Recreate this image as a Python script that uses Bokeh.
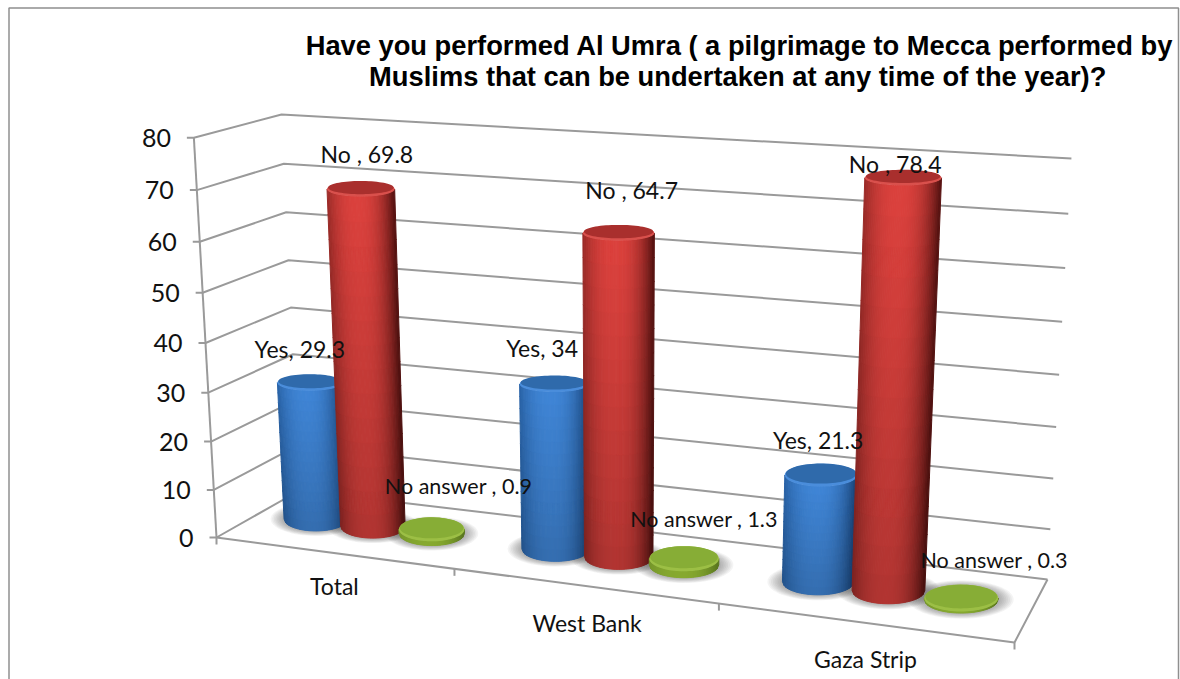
import numpy as np
from bokeh.plotting import figure
from bokeh.models import Range1d
from bokeh.core.properties import value
from bokeh.embed import file_html
from bokeh.resources import INLINE

# ---- data
title_lines = ["Have you performed Al Umra ( a pilgrimage to Mecca performed by",
               "Muslims that can be undertaken at any time of  the year)?"]
categories = ["Total", "West Bank", "Gaza Strip"]
series_names = ["Yes", "No", "No answer"]
label_names = ["Yes,", "No ,", "No answer ,"]
yes_values = [29.3, 34, 21.3]
no_values = [69.8, 64.7, 78.4]
no_answer_values = [0.9, 1.3, 0.3]
y_ticks = [0, 10, 20, 30, 40, 50, 60, 70, 80]

# ---- perspective frame (floor corners in page pixels)
FLOOR = [(216, 537), (1014, 642), (1047, 579), (299, 490)]


def homography(q):
    src = [(0, 0), (1, 0), (1, 1), (0, 1)]
    A, b = [], []
    for (s, t), (x, y) in zip(src, q):
        A.append([s, t, 1, 0, 0, 0, -s * x, -t * x]); b.append(x)
        A.append([0, 0, 0, s, t, 1, -s * y, -t * y]); b.append(y)
    return np.append(np.linalg.solve(np.array(A, float), np.array(b, float)), 1).reshape(3, 3)


HF = homography(FLOOR)


def fv(v):
    f = v / 80
    return f * (0.946 + 0.054 * f)


def proj(u, d, v):
    w = HF @ np.array([u, d, 1.0])
    bx, by = w[0] / w[2], w[1] / w[2]
    f = fv(v)
    full_h = 376 + 0.505 * (by - 490) - 20 * d * (1 - d)
    full_dx = (bx - 620) * 0.056
    return np.array([bx + full_dx * f, by - full_h * f])


def mix(a, b, t):
    t = float(np.clip(t, 0, 1))
    return "#%02x%02x%02x" % tuple(int(round(a[i] + (b[i] - a[i]) * t)) for i in range(3))


def rgb(h):
    return tuple(int(h[i:i + 2], 16) for i in (1, 3, 5))


def radius_x(u, d, v):
    bx = proj(u, d, 0)[0]
    return (31 + 0.008 * (bx - 216)) * (1 + 0.056 * fv(v))


def radius_y(cy):
    return float(np.interp(cy, [190, 385, 477, 533, 600], [7.5, 8, 11.5, 12, 13.5]))


def ellipse(cx, cy, rx, ry, n=72):
    th = np.linspace(0, 2 * np.pi, n)
    return (cx + rx * np.cos(th)).tolist(), (cy + ry * np.sin(th)).tolist()


p = figure(width=1180, height=679, output_backend="svg", toolbar_location=None,
           x_range=Range1d(0, 1180), y_range=Range1d(679, 0), min_border=0,
           outline_line_color=None, background_fill_color="white")
p.axis.visible = False
p.grid.visible = False

# outer chart border
BORDER = "#8f8f8f"
p.line([8.5, 8.5, 1178, 1178], [679, 7.5, 7.5, 679], line_color=BORDER, line_width=1.5)

GRID = "#9a9a9a"
FONT = value("Lato")
# gridlines, ticks, tick labels
for t in y_ticks:
    a, b, c = proj(0, 0, t), proj(0, 1, t), proj(1, 1, t)
    p.line([a[0] - 7, a[0], b[0], c[0]], [a[1], a[1], b[1], c[1]], line_color=GRID, line_width=2)
    p.text([a[0] - 23], [a[1]], text=[str(t)], text_align="right", text_baseline="middle",
           text_font=FONT, text_font_size="25px", text_color="#111111")
# floor front and right edges + category ticks
fa, fb, fc = proj(0, 0, 0), proj(1, 0, 0), proj(1, 1, 0)
p.line([fa[0], fb[0], fc[0]], [fa[1], fb[1], fc[1]], line_color=GRID, line_width=2)
ta, tb = proj(0, 0, 0), proj(0, 0, 80)
p.line([ta[0], tb[0]], [ta[1], tb[1]], line_color=GRID, line_width=2)
for i in range(4):
    q = proj(i / 3, 0, 0)
    p.line([q[0], q[0]], [q[1], q[1] + 7], line_color=GRID, line_width=2)
cat_dx, cat_dy = [2, 4, 3], [33, 37, 37]
for i, c in enumerate(categories):
    q = proj((i + 0.5) / 3, 0, 0)
    p.text([q[0] + cat_dx[i]], [q[1] + cat_dy[i]], text=[c], text_align="center", text_baseline="middle",
           text_font=FONT, text_font_size="23px", text_color="#111111")

# ---- cylinders
SLOTS = [0.258, 0.508, 0.76]
GROUP_SHIFT = [-0.004, 0, 0]
DEPTH = 0.52
STYLES = [
    dict(center="#3f85d6", left="#235a9b", right="#1c4a82", top="#2f6aab", rim="#4a8ddb", dim=0.82),
    dict(center="#dc413d", left="#8a2522", right="#6a1917", top="#a92f2d", rim="#d9504c", dim=0.80),
    dict(center="#86a92f", left="#6f8f28", right="#5f7d20", top="#87ad36", rim="#9cbf45", dim=1.0),
]

all_values = [yes_values, no_values, no_answer_values]
# floor shadows
for c in range(3):
    for s in range(3):
        u = (c + SLOTS[s]) / 3 + GROUP_SHIFT[c]
        q = proj(u, DEPTH, 0)
        rx, ry = radius_x(u, DEPTH, 0), radius_y(q[1])
        for k in np.linspace(1.42, 1.02, 9):
            xs, ys = ellipse(q[0], q[1], rx * k, ry * k)
            p.patch(xs, ys, fill_color="#3a3a3a", fill_alpha=0.055, line_color=None)

tops = {}
for c in range(3):
    for s in range(3):
        v = all_values[s][c]
        u = (c + SLOTS[s]) / 3 + GROUP_SHIFT[c]
        st = STYLES[s]
        ce, le, ri = rgb(st["center"]), rgb(st["left"]), rgb(st["right"])
        xs_all, ys_all, cols = [], [], []
        ncol, nrow = 40, (14 if v > 5 else 1)
        ts = np.linspace(-1, 1, ncol + 1)
        levels = np.linspace(0, v, nrow + 1)
        for j in range(nrow):
            c0, c1 = proj(u, DEPTH, levels[j]), proj(u, DEPTH, levels[j + 1])
            r0, r1 = radius_x(u, DEPTH, levels[j]), radius_x(u, DEPTH, levels[j + 1])
            e0, e1 = radius_y(c0[1]), radius_y(c1[1])
            for i in range(ncol):
                t0, t1 = ts[i], ts[i + 1]
                tm = (t0 + t1) / 2
                s0, s1 = np.sqrt(1 - t0 ** 2), np.sqrt(1 - t1 ** 2)
                xs_all.append([c0[0] + t0 * r0, c0[0] + t1 * r0, c1[0] + t1 * r1, c1[0] + t0 * r1])
                ys_all.append([c0[1] + e0 * s0, c0[1] + e0 * s1, c1[1] + e1 * s1, c1[1] + e1 * s0])
                edge = le if tm < 0 else ri
                shade = 1 - abs(tm + 0.08) ** 2.4
                base = [edge[k] + (ce[k] - edge[k]) * shade for k in range(3)]
                level = (j + 0.5) / nrow
                dim = st["dim"] + (1 - st["dim"]) * level
                cols.append(mix((0, 0, 0), base, dim))
        p.patches(xs_all, ys_all, fill_color=cols, line_color=cols, line_width=1)
        q = proj(u, DEPTH, v)
        rx, ry = radius_x(u, DEPTH, v), radius_y(q[1])
        xs, ys = ellipse(q[0], q[1], rx, ry)
        p.patch(xs, ys, fill_color=st["rim"], line_color=None)
        xs, ys = ellipse(q[0], q[1] - 1.5, rx * 0.97, ry * 0.88)
        p.patch(xs, ys, fill_color=st["top"], line_color=None)
        tops[(c, s)] = q

# ---- data labels
label_dx = [[-10, 6, 27], [-12, 13, 20], [-3, -8, 33]]
label_dy = [[-34, -35, -43], [-36, -43, -40], [-35, -14, -38]]
label_size = ["23px", "23px", "21.5px"]
for c in range(3):
    for s in range(3):
        q = tops[(c, s)]
        txt = f"{label_names[s]} {all_values[s][c]}"
        p.text([q[0] + label_dx[c][s]], [q[1] + label_dy[c][s]], text=[txt], text_align="center",
               text_baseline="middle", text_font=FONT, text_font_size=label_size[s], text_color="#111111")

# ---- title
for line, x, y in zip(title_lines, [739, 741], [44.5, 76]):
    p.text([x], [y], text=[line], text_align="center", text_baseline="middle",
           text_font=value("Liberation Sans"), text_font_style="bold", text_font_size="27.3px", text_color="#000000")

open("out.html", "w").write(file_html(p, INLINE))
